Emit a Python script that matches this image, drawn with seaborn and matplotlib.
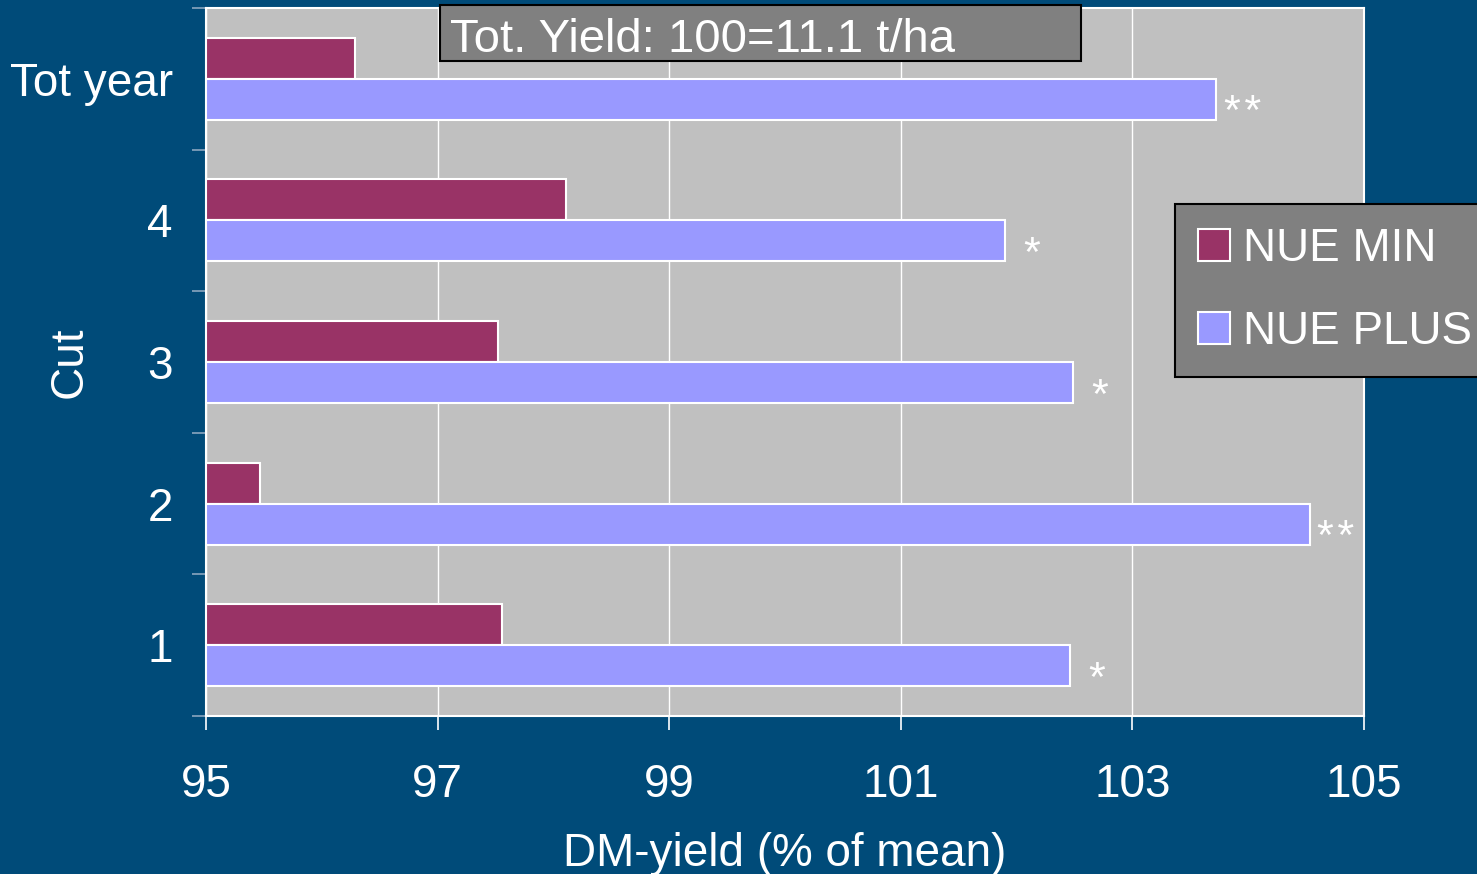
import pandas as pd
import matplotlib
matplotlib.use("Agg")
import matplotlib.pyplot as plt
import seaborn as sns
from matplotlib.patches import Rectangle

# datos
cortes = ["Tot year", "4", "3", "2", "1"]
nue_min = [96.29, 98.11, 97.52, 95.47, 97.56]
nue_plus = [103.72, 101.90, 102.49, 104.53, 102.46]
signif = ["**", "*", "*", "**", "*"]
series = ["NUE MIN", "NUE PLUS"]
x_ticks = [95, 97, 99, 101, 103, 105]

fondo = "#004b79"
gris_area = "#c0c0c0"
colores = {"NUE MIN": "#993366", "NUE PLUS": "#9999ff"}

df = pd.DataFrame({
    "Cut": cortes * 2,
    "valor": nue_min + nue_plus,
    "serie": [series[0]] * len(cortes) + [series[1]] * len(cortes),
})

sns.set_theme(style="white")
plt.rcParams["font.family"] = ["Liberation Sans", "DejaVu Sans"]

fig = plt.figure(figsize=(14.77, 8.74), dpi=100, facecolor=fondo)
ax = fig.add_axes([206 / 1477, 1 - 716 / 874, (1364 - 206) / 1477, (716 - 8) / 874])
ax.set_facecolor(gris_area)

sns.barplot(data=df, y="Cut", x="valor", hue="serie", order=cortes, hue_order=series,
            palette=colores, saturation=1, orient="h", width=0.58, edgecolor="white",
            linewidth=1.5, ax=ax, legend=False)

ax.set_xlim(95, 105)
ax.set_ylim(len(cortes) - 0.5, -0.5)
ax.set_xticks(x_ticks)
ax.xaxis.grid(True, color="white", linewidth=1)
ax.set_axisbelow(True)
for s in ax.spines.values():
    s.set_color("white")
    s.set_linewidth(1.5)

# ticks del eje y en los limites de categoria, etiquetas en el centro
ax.set_yticks([i - 0.5 for i in range(len(cortes) + 1)])
ax.set_yticklabels([])
ax.set_yticks(range(len(cortes)), minor=True)
ax.set_yticklabels(cortes, minor=True)
ax.tick_params(axis="y", which="major", length=10, width=1.2, color="#8aa6bf", left=True)
ax.tick_params(axis="y", which="minor", length=0, pad=24, labelsize=33, labelcolor="white")
ax.tick_params(axis="x", length=10, width=1.2, color="white", bottom=True, pad=24,
               labelsize=33, labelcolor="white")

ax.set_xlabel("DM-yield (% of mean)", fontsize=33, color="white", labelpad=18)
ax.set_ylabel("Cut", fontsize=33, color="white", va="center")
ax.yaxis.set_label_coords((70 - 206) / 1158, 0.5)

# asteriscos de significancia
for i, (v, s) in enumerate(zip(nue_plus, signif)):
    ax.annotate(s.replace("**", "*\u200a*"), xy=(v, i + 0.145), xytext=(19, -18),
                textcoords="offset points", ha="center", va="baseline",
                fontsize=31, color="white")

# caja de titulo
fig.patches.append(Rectangle((440 / 1477, 1 - 61 / 874), (1081 - 440) / 1477, 56 / 874,
                             transform=fig.transFigure, facecolor="#808080",
                             edgecolor="black", linewidth=1.5, zorder=5))
fig.text(450 / 1477, 1 - 52 / 874, "Tot. Yield: 100=11.1 t/ha", fontsize=34,
         color="white", ha="left", va="baseline", zorder=6)

handles = [plt.Rectangle((0, 0), 1, 1, facecolor=colores[s], edgecolor="white", linewidth=1.5)
           for s in series]
leg = fig.legend(handles, series, loc="upper left", bbox_to_anchor=(1175 / 1477, 1 - 204 / 874),
                 fontsize=33, frameon=True, fancybox=False, facecolor="#808080",
                 edgecolor="black", framealpha=1, handlelength=0.7, handleheight=0.7,
                 handletextpad=0.28, labelspacing=0.85, borderpad=0.5, borderaxespad=0)
leg.get_frame().set_linewidth(1.5)
for t in leg.get_texts():
    t.set_color("white")

fig.savefig("out.png", dpi=100, facecolor=fondo)
